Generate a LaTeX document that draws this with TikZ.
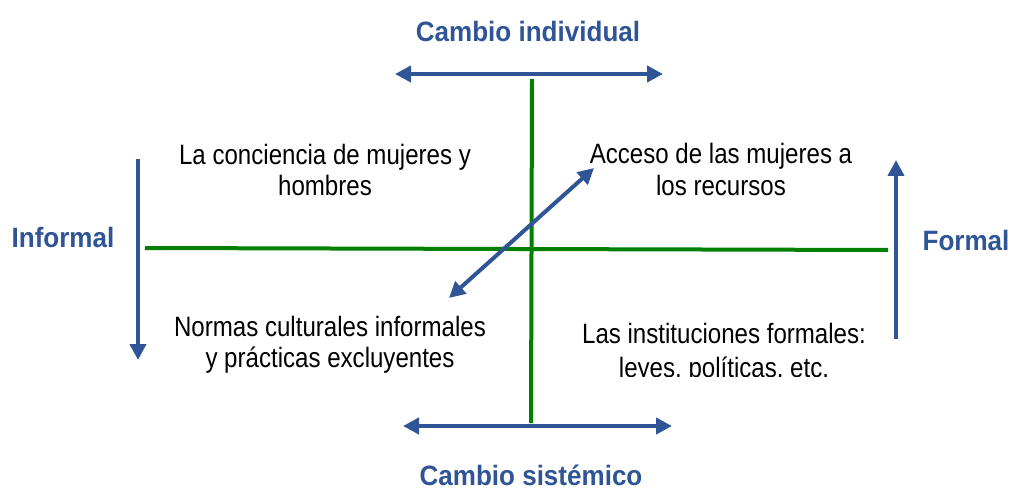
\documentclass[tikz,border=0pt]{standalone}
\usepackage{fontspec}
\setmainfont[FakeStretch=0.86]{Liberation Sans}
\newfontfamily\headfont[FakeStretch=0.93]{Liberation Sans}
\usetikzlibrary{arrows.meta}
\definecolor{arrowblue}{RGB}{47,85,151}
\definecolor{axisgreen}{RGB}{0,128,0}
\begin{document}
\begin{tikzpicture}[x=1pt,y=-1pt,
  axisline/.style={draw=axisgreen,line width=4pt},
  dirarrow/.style={draw=arrowblue,line width=4pt},
  both/.style={dirarrow,{Triangle[length=16pt,width=16pt]}-{Triangle[length=16pt,width=16pt]}},
  single/.style={dirarrow,-{Triangle[length=16pt,width=16pt]}},
  headlabel/.style={inner sep=0pt,anchor=base,text=arrowblue,font=\headfont\bfseries\fontsize{28}{32}\selectfont},
  bodytext/.style={inner sep=0pt,anchor=base,text=black,font=\fontsize{28}{31}\selectfont}]
\useasboundingbox (0,0) rectangle (1011,489);
% axes
\coordinate (vt) at (532,79);
\coordinate (vb) at (531,423);
\coordinate (hl) at (145,248);
\coordinate (hr) at (888,250);
\draw[axisline] (vt) -- (vb);
\draw[axisline] (hl) -- (hr);
% arrows
\coordinate (tl) at (395,74);
\coordinate (tr) at (663,74);
\draw[both] (tl) -- (tr);
\coordinate (bl) at (403,426);
\coordinate (br) at (672,426);
\draw[both] (bl) -- (br);
\coordinate (lt) at (138,159);
\coordinate (lb) at (138,360);
\draw[single] (lt) -- (lb);
\coordinate (rb) at (896,339);
\coordinate (rt) at (896,160);
\draw[single] (rb) -- (rt);
\coordinate (dl) at (449,298);
\coordinate (du) at (594,168);
\draw[both] (dl) -- (du);
% labels
\node[headlabel] (ind) at (528,42) {Cambio individual};
\node[headlabel] (sis) at (531,485) {Cambio sistémico};
\node[headlabel] (inf) at (63,247) {Informal};
\node[headlabel] (for) at (966,250) {Formal};
% quadrant texts
\node[bodytext] (q1a) at (325,165) {La conciencia de mujeres y};
\node[bodytext] (q1b) at (325,196) {hombres};
\node[bodytext] (q2a) at (721,164) {Acceso de las mujeres a};
\node[bodytext] (q2b) at (721,195) {los recursos};
\node[bodytext] (q3a) at (330,336) {Normas culturales informales};
\node[bodytext] (q3b) at (330,367) {y prácticas excluyentes};
\node[bodytext] (q4a) at (724,343) {Las instituciones formales:};
\begin{scope}
\clip (560,350) rectangle (900,376);
\node[bodytext] (q4b) at (724,377) {leyes, políticas, etc.};
\end{scope}
\end{tikzpicture}
\end{document}
